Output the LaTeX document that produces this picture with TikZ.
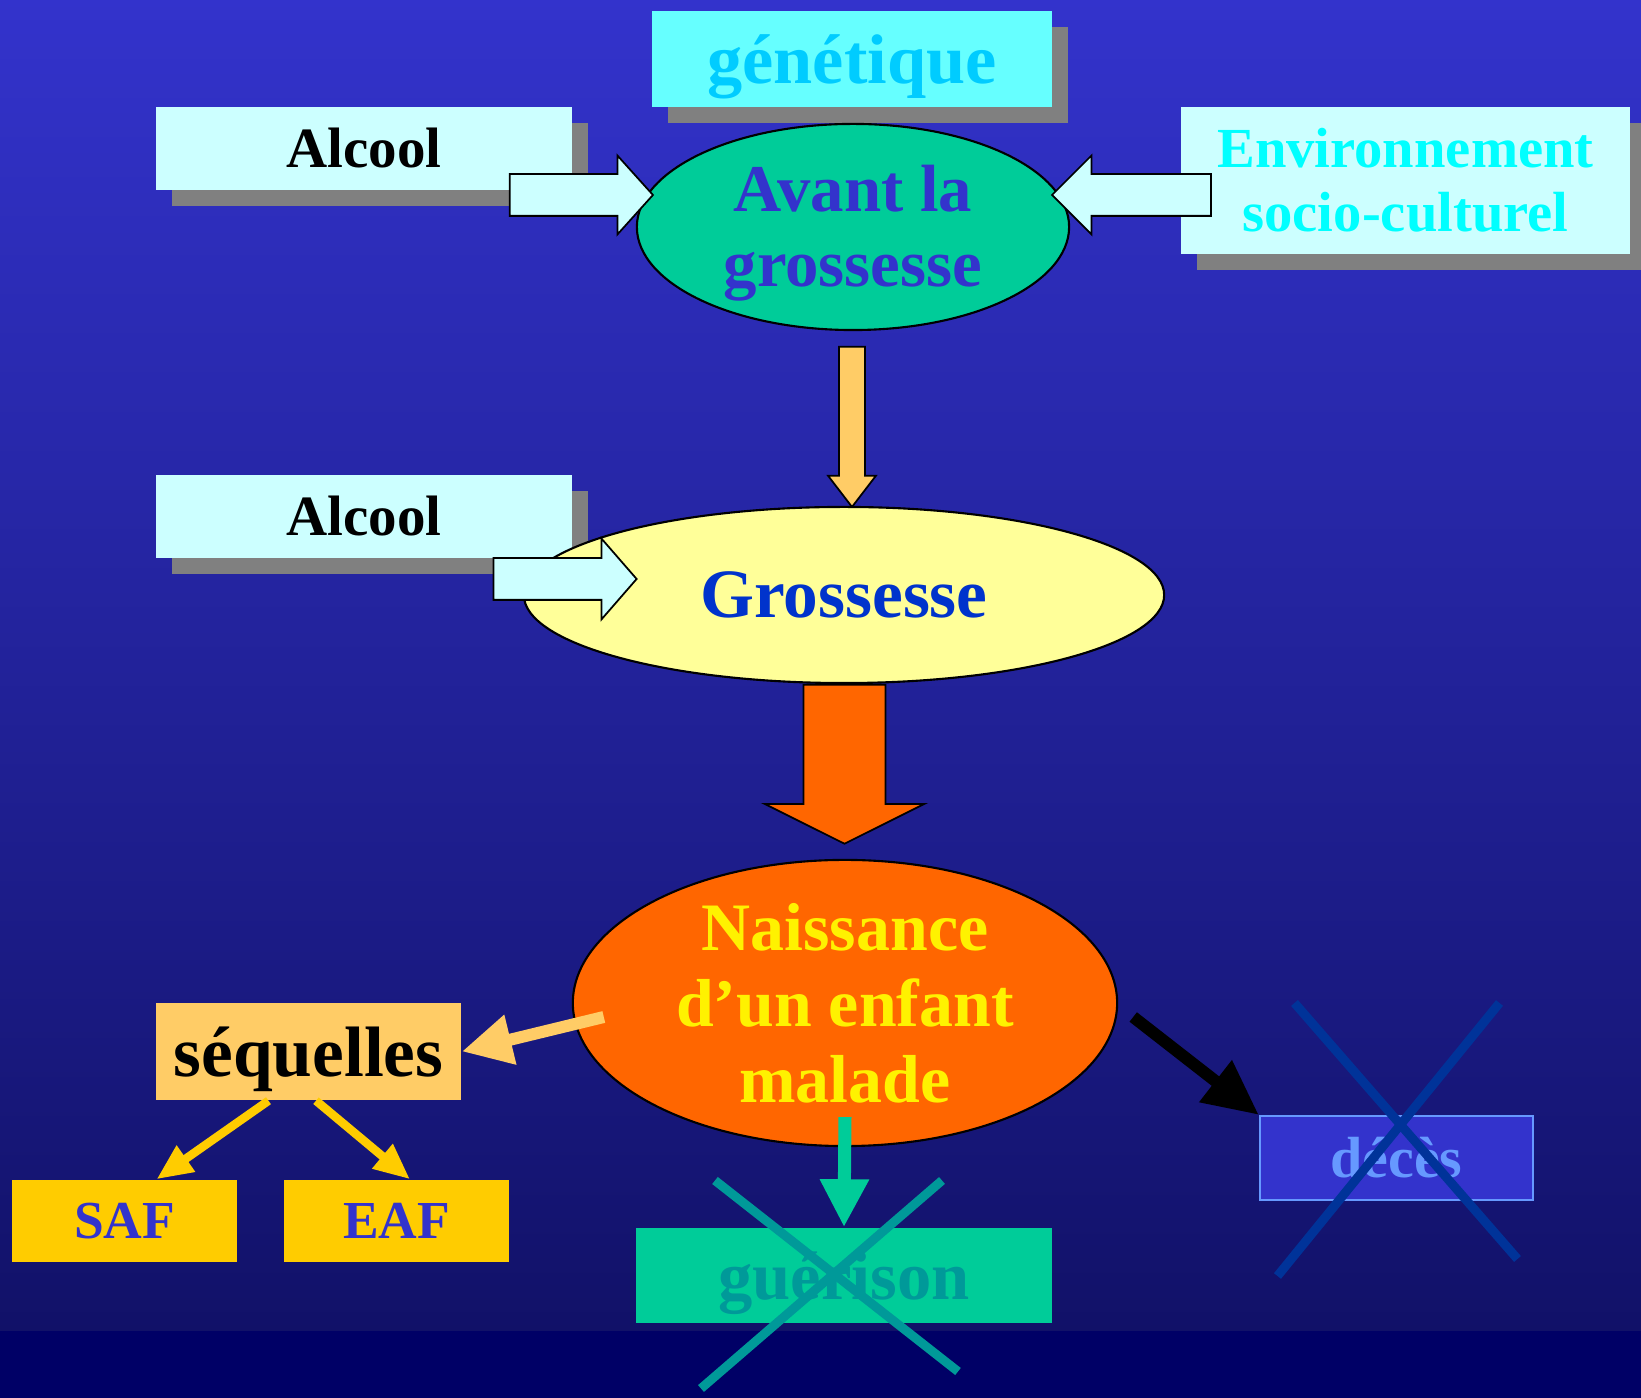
\documentclass[tikz,border=0pt]{standalone}
\usepackage{fontspec}
\setmainfont{Liberation Serif}
\usetikzlibrary{arrows.meta,shapes.geometric,shapes.arrows,shadows,calc,positioning}

\definecolor{fondhaut}{RGB}{51,51,204}
\definecolor{fondbas}{RGB}{17,17,104}
\definecolor{fondbande}{RGB}{0,0,102}
\definecolor{cyanclair}{RGB}{102,255,255}
\definecolor{cyanpale}{RGB}{204,255,255}
\definecolor{bleuciel}{RGB}{0,204,255}
\definecolor{cyanvif}{RGB}{0,255,255}
\definecolor{vertmer}{RGB}{0,204,153}
\definecolor{violet}{RGB}{51,51,204}
\definecolor{jaunepale}{RGB}{255,255,153}
\definecolor{bleuroi}{RGB}{0,51,204}
\definecolor{orangevif}{RGB}{255,102,0}
\definecolor{abricot}{RGB}{255,204,102}
\definecolor{jauneor}{RGB}{255,204,0}
\definecolor{sarcelle}{RGB}{0,153,153}
\definecolor{pervenche}{RGB}{102,153,255}
\definecolor{bleunuit}{RGB}{0,51,153}
\definecolor{ombre}{RGB}{128,128,128}

\tikzset{
  boite/.style={rectangle, inner sep=0pt},
  ombree/.style={drop shadow={shadow xshift=0.16cm, shadow yshift=-0.16cm, fill=ombre, opacity=1}},
  bulle/.style={ellipse, draw=black, line width=0.6pt, inner sep=0pt},
  texte/.style={align=center, inner sep=0pt},
  fleche/.style={single arrow, draw=black, line width=0.5pt, inner xsep=0pt},
  flechebas/.style={single arrow, draw=black, line width=0.5pt, inner ysep=0pt, shape border rotate=270},
  croix/.style={line width=0.09cm}
}

\begin{document}
\begin{tikzpicture}[x=0.01cm, y=-0.01cm]

	% Fond
	\useasboundingbox (0,0) rectangle (1641,1398);
	\shade[top color=fondhaut, bottom color=fondbas] (0,0) rectangle (1641,1331);
	\fill[fondbande] (0,1331) rectangle (1641,1398);

	% Facteurs avant la grossesse
	\node[boite, ombree, fill=cyanclair, text=bleuciel, minimum width=4cm, minimum height=0.96cm, text depth=0pt,
		font=\bfseries\fontsize{20}{22}\selectfont] (genet) at (852,59) {génétique};
	\node[boite, ombree, fill=cyanpale, minimum width=4.16cm, minimum height=0.83cm,
		font=\bfseries\fontsize{16.2}{18}\selectfont] (alcoolA) at (364,148.5) {Alcool};
	\node[boite, ombree, fill=cyanpale, text=cyanvif, align=center, minimum width=4.49cm, minimum height=1.47cm,
		font=\bfseries\fontsize{16.1}{18.2}\selectfont] (envt) at (1405.5,180.5) {Environnement\\socio-culturel};

	% Avant la grossesse
	\node[bulle, fill=vertmer, minimum width=4.32cm, minimum height=2.06cm] (avant) at (853,227) {};
	\node[texte, text=violet, font=\bfseries\fontsize{19}{21.3}\selectfont] (avanttxt) at ([yshift=-0.065cm]avant) {Avant la\\grossesse};

	\node[fleche, fill=cyanpale, minimum height=1.43cm, inner ysep=0.2cm,
		single arrow head extend=0.185cm, single arrow tip angle=96] (flA) at (572,195) {};
	\node[fleche, fill=cyanpale, minimum height=1.59cm, inner ysep=0.2cm, shape border rotate=180,
		single arrow head extend=0.185cm, single arrow tip angle=90] (flE) at (1142,195) {};

	\node[flechebas, fill=abricot, minimum height=1.6cm, inner xsep=0.12cm,
		single arrow head extend=0.11cm, single arrow tip angle=75] (flAG) at (852,418.5) {};

	% Grossesse
	\node[boite, ombree, fill=cyanpale, minimum width=4.16cm, minimum height=0.83cm,
		font=\bfseries\fontsize{16.2}{18}\selectfont] (alcoolB) at (364,516.5) {Alcool};
	\node[bulle, fill=jaunepale, minimum width=6.4cm, minimum height=1.76cm] (gross) at (844,595) {};
	\node[texte, text=bleuroi, font=\bfseries\fontsize{19.7}{22}\selectfont] (grosstxt) at (gross) {Grossesse};

	\node[fleche, fill=cyanpale, minimum height=1.43cm, inner ysep=0.2cm,
		single arrow head extend=0.195cm, single arrow tip angle=98] (flB) at (556,579) {};

	\node[flechebas, fill=orangevif, minimum height=1.59cm, inner xsep=0.4cm,
		single arrow head extend=0.39cm, single arrow tip angle=127] (flGN) at (844.5,754) {};

	% Naissance
	\node[bulle, fill=orangevif, minimum width=5.44cm, minimum height=2.86cm] (naiss) at (845,1003) {};
	\node[texte, text=yellow, font=\bfseries\fontsize{19.3}{21.6}\selectfont] (naisstxt) at (naiss) {Naissance\\d’un enfant\\malade};

	\node[boite, fill=abricot, minimum width=3.05cm, minimum height=0.97cm, text depth=0pt,
		font=\bfseries\fontsize{20.3}{22}\selectfont] (sequel) at (308.5,1051.5) {séquelles};
	\node[boite, fill=jauneor, text=violet, minimum width=2.25cm, minimum height=0.82cm,
		font=\bfseries\fontsize{15.2}{17}\selectfont] (saf) at (124.5,1221) {SAF};
	\node[boite, fill=jauneor, text=violet, minimum width=2.25cm, minimum height=0.82cm,
		font=\bfseries\fontsize{15.2}{17}\selectfont] (eaf) at (396.5,1221) {EAF};
	\node[boite, fill=vertmer, text=sarcelle, minimum width=4.16cm, minimum height=0.95cm, text depth=0pt,
		font=\bfseries\fontsize{19.5}{21}\selectfont] (gueri) at (844,1275.5) {guérison};
	\node[boite, fill=violet, draw=pervenche, line width=0.6pt, text=pervenche, minimum width=2.73cm, minimum height=0.84cm,
		font=\bfseries\fontsize{16.5}{18}\selectfont] (deces) at (1396.5,1158) {décès};

	% Issues
	\draw[abricot, line width=0.12cm, -{Triangle[length=0.5cm, width=0.48cm]}]
		([xshift=0.32cm, yshift=-0.14cm]naiss.west) -- (sequel.east);
	\draw[jauneor, line width=0.085cm, -{Triangle[length=0.36cm, width=0.3cm]}]
		([xshift=-0.4cm]sequel.south) -- ([xshift=0.32cm]saf.north);
	\draw[jauneor, line width=0.085cm, -{Triangle[length=0.36cm, width=0.3cm]}]
		([xshift=0.075cm]sequel.south) -- ([xshift=0.135cm]eaf.north);
	\draw[vertmer, line width=0.13cm, -{Triangle[length=0.48cm, width=0.46cm]}]
		([yshift=0.3cm]naiss.south) -- (gueri.north);
	\draw[black, line width=0.12cm, -{Triangle[length=0.55cm, width=0.5cm]}]
		([xshift=0.15cm, yshift=-0.14cm]naiss.east) -- (deces.north west);

	% Croix
	\draw[croix, sarcelle] ($(gueri)+(-129,-95)$) -- ($(gueri)+(114,96)$);
	\draw[croix, sarcelle] ($(gueri)+(98,-95)$) -- ($(gueri)+(-143,113)$);
	\draw[croix, bleunuit] ($(deces)+(-102,-155)$) -- ($(deces)+(121,101)$);
	\draw[croix, bleunuit] ($(deces)+(103,-155)$) -- ($(deces)+(-119,118)$);

\end{tikzpicture}
\end{document}
